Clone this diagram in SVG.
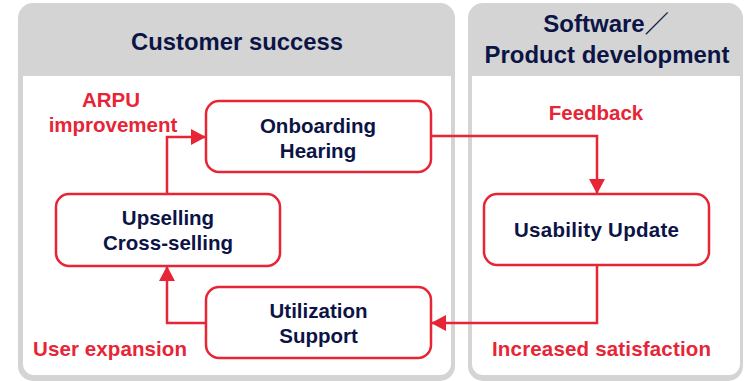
<svg xmlns="http://www.w3.org/2000/svg" width="746" height="381" viewBox="0 0 746 381">
<defs>
<style>
.panel{fill:#d4d4d4;}
.inner{fill:#ffffff;}
.hdr{font-family:"Liberation Sans",Arial,"Noto Sans CJK JP",sans-serif;font-weight:bold;font-size:24px;fill:#0c1446;text-anchor:middle;}
.node rect{fill:#ffffff;stroke:#e62536;stroke-width:2.5;}
.node text{font-family:"Liberation Sans",Arial,sans-serif;font-weight:bold;font-size:20.5px;fill:#0c1446;text-anchor:middle;}
.lbl{font-family:"Liberation Sans",Arial,sans-serif;font-weight:bold;font-size:20.5px;fill:#e62536;text-anchor:middle;}
.conn{fill:none;stroke:#e62536;stroke-width:2.5;}
</style>
<marker id="arr" markerUnits="userSpaceOnUse" markerWidth="16" markerHeight="18" refX="14" refY="8" orient="auto">
<path d="M0,0 L15,8 L0,16 Z" fill="#e62536"/>
</marker>
</defs>
<g id="panel-customer-success">
<rect class="panel" x="18" y="3" width="437" height="378" rx="15"/>
<path class="inner" d="M23,76 H451 V364 A11,11 0 0 1 440,375 H34 A11,11 0 0 1 23,364 Z"/>
<text class="hdr" x="237" y="50" textLength="212" lengthAdjust="spacingAndGlyphs">Customer success</text>
</g>
<g id="panel-product-development">
<rect class="panel" x="468" y="3" width="275" height="378" rx="15"/>
<path class="inner" d="M472,76 H740 V364 A11,11 0 0 1 729,375 H483 A11,11 0 0 1 472,364 Z"/>
<text class="hdr" x="606" y="32">Software／</text>
<text class="hdr" x="607" y="63" textLength="245" lengthAdjust="spacingAndGlyphs">Product development</text>
</g>
<g id="node-onboarding" class="node">
<rect x="206" y="101" width="225" height="71" rx="13"/>
<text x="318" y="133">Onboarding</text>
<text x="318" y="158">Hearing</text>
</g>
<g id="node-upselling" class="node">
<rect x="56" y="194" width="224" height="72" rx="13"/>
<text x="168" y="225">Upselling</text>
<text x="168" y="250">Cross-selling</text>
</g>
<g id="node-utilization" class="node">
<rect x="206" y="287" width="225" height="71" rx="13"/>
<text x="318.5" y="318">Utilization</text>
<text x="318.5" y="343">Support</text>
</g>
<g id="node-usability" class="node">
<rect x="484" y="194" width="225" height="71" rx="13"/>
<text x="596.5" y="237" textLength="165" lengthAdjust="spacing">Usability Update</text>
</g>
<g id="connectors">
<path class="conn" d="M167,194 V137 H205" marker-end="url(#arr)"/>
<path class="conn" d="M206,323 H167 V267" marker-end="url(#arr)"/>
<path class="conn" d="M431,136 H597 V193" marker-end="url(#arr)"/>
<path class="conn" d="M597,265 V323 H432" marker-end="url(#arr)"/>
</g>
<g id="labels">
<text class="lbl" x="111" y="107">ARPU</text>
<text class="lbl" x="113" y="132">improvement</text>
<text class="lbl" x="596" y="120">Feedback</text>
<text class="lbl" x="110" y="356" textLength="154" lengthAdjust="spacing">User expansion</text>
<text class="lbl" x="601.5" y="356" textLength="219" lengthAdjust="spacing">Increased satisfaction</text>
</g>
</svg>
